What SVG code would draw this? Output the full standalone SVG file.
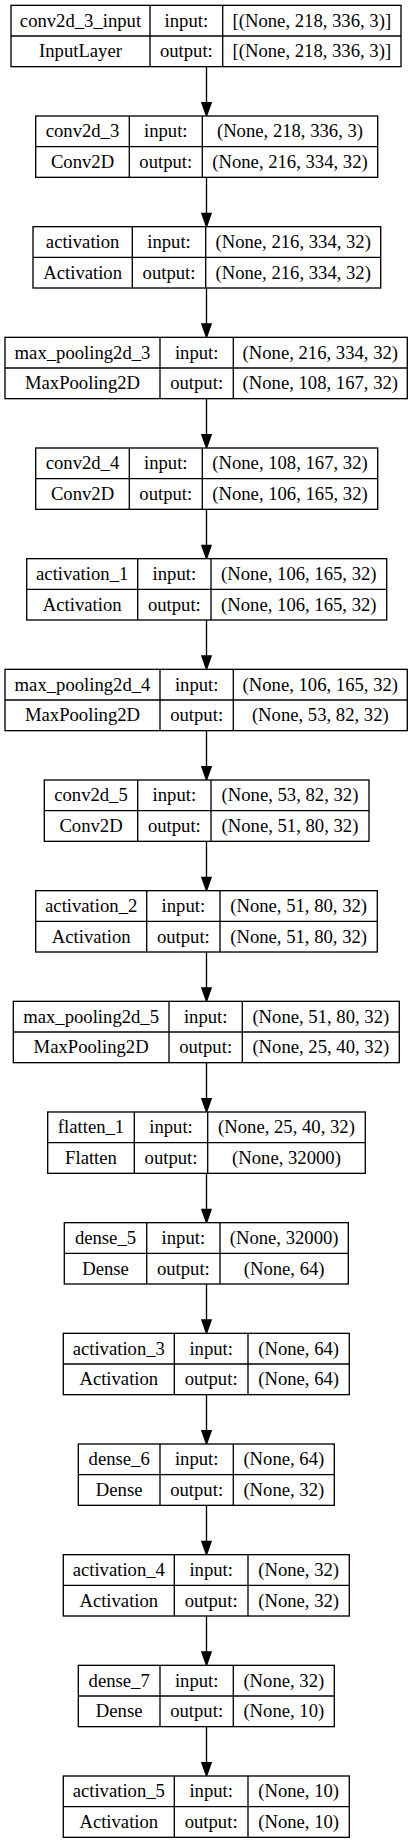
<svg xmlns="http://www.w3.org/2000/svg" width="413" height="1844" viewBox="0 0 413 1844">
<style>
.box{fill:#fff;stroke:#000;stroke-width:1.33}
.sep{stroke:#000;stroke-width:1.33}
text{font-family:"Liberation Serif","Times New Roman",serif;font-size:18.67px;fill:#000;text-anchor:middle}
.edge{stroke:#000;stroke-width:1.33;fill:none}
</style>
<defs>
<marker id="ah" markerUnits="userSpaceOnUse" markerWidth="14" markerHeight="10" refX="0" refY="4.67" orient="auto" overflow="visible">
<path d="M0,0 L13.33,4.67 L0,9.33 z" fill="#000" stroke="#000" stroke-width="1.33"/>
</marker>
</defs>
<rect x="0" y="0" width="413" height="1844" fill="#fff"/>

<g id="edges">
<line class="edge" x1="206.5" y1="66.67" x2="206.5" y2="102.67" marker-end="url(#ah)"/>
<line class="edge" x1="206.5" y1="177.33" x2="206.5" y2="213.33" marker-end="url(#ah)"/>
<line class="edge" x1="206.5" y1="288" x2="206.5" y2="324" marker-end="url(#ah)"/>
<line class="edge" x1="206.5" y1="398.67" x2="206.5" y2="434.67" marker-end="url(#ah)"/>
<line class="edge" x1="206.5" y1="509.33" x2="206.5" y2="545.33" marker-end="url(#ah)"/>
<line class="edge" x1="206.5" y1="620" x2="206.5" y2="656" marker-end="url(#ah)"/>
<line class="edge" x1="206.5" y1="730.67" x2="206.5" y2="766.67" marker-end="url(#ah)"/>
<line class="edge" x1="206.5" y1="841.33" x2="206.5" y2="877.33" marker-end="url(#ah)"/>
<line class="edge" x1="206.5" y1="952" x2="206.5" y2="988" marker-end="url(#ah)"/>
<line class="edge" x1="206.5" y1="1062.67" x2="206.5" y2="1098.67" marker-end="url(#ah)"/>
<line class="edge" x1="206.5" y1="1173.33" x2="206.5" y2="1209.33" marker-end="url(#ah)"/>
<line class="edge" x1="206.5" y1="1284" x2="206.5" y2="1320" marker-end="url(#ah)"/>
<line class="edge" x1="206.5" y1="1394.67" x2="206.5" y2="1430.67" marker-end="url(#ah)"/>
<line class="edge" x1="206.5" y1="1505.33" x2="206.5" y2="1541.33" marker-end="url(#ah)"/>
<line class="edge" x1="206.5" y1="1616" x2="206.5" y2="1652" marker-end="url(#ah)"/>
<line class="edge" x1="206.5" y1="1726.67" x2="206.5" y2="1762.67" marker-end="url(#ah)"/>
</g>

<g id="n1" transform="translate(0,5.33)">
<rect class="box" x="11" y="0" width="390" height="61.33"/>
<line class="sep" x1="11" y1="30.67" x2="401" y2="30.67"/>
<line class="sep" x1="150" y1="0" x2="150" y2="61.33"/>
<line class="sep" x1="222.7" y1="0" x2="222.7" y2="61.33"/>
<text x="80.5" y="21.33">conv2d_3_input</text><text x="186.35" y="21.33">input:</text><text x="311.85" y="21.33">[(None, 218, 336, 3)]</text>
<text x="80.5" y="52">InputLayer</text><text x="186.35" y="52">output:</text><text x="311.85" y="52">[(None, 218, 336, 3)]</text>
</g>

<g id="n2" transform="translate(0,116)">
<rect class="box" x="35.7" y="0" width="342" height="61.33"/>
<line class="sep" x1="35.7" y1="30.67" x2="377.7" y2="30.67"/>
<line class="sep" x1="129.3" y1="0" x2="129.3" y2="61.33"/>
<line class="sep" x1="202.3" y1="0" x2="202.3" y2="61.33"/>
<text x="82.5" y="21.33">conv2d_3</text><text x="165.8" y="21.33">input:</text><text x="290" y="21.33">(None, 218, 336, 3)</text>
<text x="82.5" y="52">Conv2D</text><text x="165.8" y="52">output:</text><text x="290" y="52">(None, 216, 334, 32)</text>
</g>

<g id="n3" transform="translate(0,226.67)">
<rect class="box" x="33" y="0" width="347.7" height="61.33"/>
<line class="sep" x1="33" y1="30.67" x2="380.7" y2="30.67"/>
<line class="sep" x1="132.3" y1="0" x2="132.3" y2="61.33"/>
<line class="sep" x1="205.7" y1="0" x2="205.7" y2="61.33"/>
<text x="82.65" y="21.33">activation</text><text x="169" y="21.33">input:</text><text x="293.2" y="21.33">(None, 216, 334, 32)</text>
<text x="82.65" y="52">Activation</text><text x="169" y="52">output:</text><text x="293.2" y="52">(None, 216, 334, 32)</text>
</g>

<g id="n4" transform="translate(0,337.33)">
<rect class="box" x="5" y="0" width="402.3" height="61.33"/>
<line class="sep" x1="5" y1="30.67" x2="407.3" y2="30.67"/>
<line class="sep" x1="160" y1="0" x2="160" y2="61.33"/>
<line class="sep" x1="233.3" y1="0" x2="233.3" y2="61.33"/>
<text x="82.5" y="21.33">max_pooling2d_3</text><text x="196.65" y="21.33">input:</text><text x="320.3" y="21.33">(None, 216, 334, 32)</text>
<text x="82.5" y="52">MaxPooling2D</text><text x="196.65" y="52">output:</text><text x="320.3" y="52">(None, 108, 167, 32)</text>
</g>

<g id="n5" transform="translate(0,448)">
<rect class="box" x="35.7" y="0" width="342" height="61.33"/>
<line class="sep" x1="35.7" y1="30.67" x2="377.7" y2="30.67"/>
<line class="sep" x1="129.3" y1="0" x2="129.3" y2="61.33"/>
<line class="sep" x1="202.3" y1="0" x2="202.3" y2="61.33"/>
<text x="82.5" y="21.33">conv2d_4</text><text x="165.8" y="21.33">input:</text><text x="290" y="21.33">(None, 108, 167, 32)</text>
<text x="82.5" y="52">Conv2D</text><text x="165.8" y="52">output:</text><text x="290" y="52">(None, 106, 165, 32)</text>
</g>

<g id="n6" transform="translate(0,558.67)">
<rect class="box" x="26.7" y="0" width="360" height="61.33"/>
<line class="sep" x1="26.7" y1="30.67" x2="386.7" y2="30.67"/>
<line class="sep" x1="137.7" y1="0" x2="137.7" y2="61.33"/>
<line class="sep" x1="211" y1="0" x2="211" y2="61.33"/>
<text x="82.2" y="21.33">activation_1</text><text x="174.35" y="21.33">input:</text><text x="298.85" y="21.33">(None, 106, 165, 32)</text>
<text x="82.2" y="52">Activation</text><text x="174.35" y="52">output:</text><text x="298.85" y="52">(None, 106, 165, 32)</text>
</g>

<g id="n7" transform="translate(0,669.33)">
<rect class="box" x="5" y="0" width="402.3" height="61.33"/>
<line class="sep" x1="5" y1="30.67" x2="407.3" y2="30.67"/>
<line class="sep" x1="160" y1="0" x2="160" y2="61.33"/>
<line class="sep" x1="233.3" y1="0" x2="233.3" y2="61.33"/>
<text x="82.5" y="21.33">max_pooling2d_4</text><text x="196.65" y="21.33">input:</text><text x="320.3" y="21.33">(None, 106, 165, 32)</text>
<text x="82.5" y="52">MaxPooling2D</text><text x="196.65" y="52">output:</text><text x="320.3" y="52">(None, 53, 82, 32)</text>
</g>

<g id="n8" transform="translate(0,780)">
<rect class="box" x="44.3" y="0" width="324.7" height="61.33"/>
<line class="sep" x1="44.3" y1="30.67" x2="369" y2="30.67"/>
<line class="sep" x1="137.7" y1="0" x2="137.7" y2="61.33"/>
<line class="sep" x1="211" y1="0" x2="211" y2="61.33"/>
<text x="91" y="21.33">conv2d_5</text><text x="174.35" y="21.33">input:</text><text x="290" y="21.33">(None, 53, 82, 32)</text>
<text x="91" y="52">Conv2D</text><text x="174.35" y="52">output:</text><text x="290" y="52">(None, 51, 80, 32)</text>
</g>

<g id="n9" transform="translate(0,890.67)">
<rect class="box" x="35.7" y="0" width="341.6" height="61.33"/>
<line class="sep" x1="35.7" y1="30.67" x2="377.3" y2="30.67"/>
<line class="sep" x1="146.7" y1="0" x2="146.7" y2="61.33"/>
<line class="sep" x1="220" y1="0" x2="220" y2="61.33"/>
<text x="91.2" y="21.33">activation_2</text><text x="183.35" y="21.33">input:</text><text x="298.65" y="21.33">(None, 51, 80, 32)</text>
<text x="91.2" y="52">Activation</text><text x="183.35" y="52">output:</text><text x="298.65" y="52">(None, 51, 80, 32)</text>
</g>

<g id="n10" transform="translate(0,1001.33)">
<rect class="box" x="13.3" y="0" width="386" height="61.33"/>
<line class="sep" x1="13.3" y1="30.67" x2="399.3" y2="30.67"/>
<line class="sep" x1="169" y1="0" x2="169" y2="61.33"/>
<line class="sep" x1="242.3" y1="0" x2="242.3" y2="61.33"/>
<text x="91.15" y="21.33">max_pooling2d_5</text><text x="205.65" y="21.33">input:</text><text x="320.8" y="21.33">(None, 51, 80, 32)</text>
<text x="91.15" y="52">MaxPooling2D</text><text x="205.65" y="52">output:</text><text x="320.8" y="52">(None, 25, 40, 32)</text>
</g>

<g id="n11" transform="translate(0,1112)">
<rect class="box" x="47.7" y="0" width="317.6" height="61.33"/>
<line class="sep" x1="47.7" y1="30.67" x2="365.3" y2="30.67"/>
<line class="sep" x1="134.3" y1="0" x2="134.3" y2="61.33"/>
<line class="sep" x1="207.7" y1="0" x2="207.7" y2="61.33"/>
<text x="91" y="21.33">flatten_1</text><text x="171" y="21.33">input:</text><text x="286.5" y="21.33">(None, 25, 40, 32)</text>
<text x="91" y="52">Flatten</text><text x="171" y="52">output:</text><text x="286.5" y="52">(None, 32000)</text>
</g>

<g id="n12" transform="translate(0,1222.67)">
<rect class="box" x="64.3" y="0" width="284" height="61.33"/>
<line class="sep" x1="64.3" y1="30.67" x2="348.3" y2="30.67"/>
<line class="sep" x1="146.7" y1="0" x2="146.7" y2="61.33"/>
<line class="sep" x1="220" y1="0" x2="220" y2="61.33"/>
<text x="105.5" y="21.33">dense_5</text><text x="183.35" y="21.33">input:</text><text x="284.15" y="21.33">(None, 32000)</text>
<text x="105.5" y="52">Dense</text><text x="183.35" y="52">output:</text><text x="284.15" y="52">(None, 64)</text>
</g>

<g id="n13" transform="translate(0,1333.33)">
<rect class="box" x="63.3" y="0" width="286" height="61.33"/>
<line class="sep" x1="63.3" y1="30.67" x2="349.3" y2="30.67"/>
<line class="sep" x1="174.3" y1="0" x2="174.3" y2="61.33"/>
<line class="sep" x1="248" y1="0" x2="248" y2="61.33"/>
<text x="118.8" y="21.33">activation_3</text><text x="211.15" y="21.33">input:</text><text x="298.65" y="21.33">(None, 64)</text>
<text x="118.8" y="52">Activation</text><text x="211.15" y="52">output:</text><text x="298.65" y="52">(None, 64)</text>
</g>

<g id="n14" transform="translate(0,1444)">
<rect class="box" x="78.3" y="0" width="256" height="61.33"/>
<line class="sep" x1="78.3" y1="30.67" x2="334.3" y2="30.67"/>
<line class="sep" x1="160" y1="0" x2="160" y2="61.33"/>
<line class="sep" x1="233.3" y1="0" x2="233.3" y2="61.33"/>
<text x="119.15" y="21.33">dense_6</text><text x="196.65" y="21.33">input:</text><text x="283.8" y="21.33">(None, 64)</text>
<text x="119.15" y="52">Dense</text><text x="196.65" y="52">output:</text><text x="283.8" y="52">(None, 32)</text>
</g>

<g id="n15" transform="translate(0,1554.67)">
<rect class="box" x="63.3" y="0" width="286" height="61.33"/>
<line class="sep" x1="63.3" y1="30.67" x2="349.3" y2="30.67"/>
<line class="sep" x1="174.3" y1="0" x2="174.3" y2="61.33"/>
<line class="sep" x1="248" y1="0" x2="248" y2="61.33"/>
<text x="118.8" y="21.33">activation_4</text><text x="211.15" y="21.33">input:</text><text x="298.65" y="21.33">(None, 32)</text>
<text x="118.8" y="52">Activation</text><text x="211.15" y="52">output:</text><text x="298.65" y="52">(None, 32)</text>
</g>

<g id="n16" transform="translate(0,1665.33)">
<rect class="box" x="78.3" y="0" width="256" height="61.33"/>
<line class="sep" x1="78.3" y1="30.67" x2="334.3" y2="30.67"/>
<line class="sep" x1="160" y1="0" x2="160" y2="61.33"/>
<line class="sep" x1="233.3" y1="0" x2="233.3" y2="61.33"/>
<text x="119.15" y="21.33">dense_7</text><text x="196.65" y="21.33">input:</text><text x="283.8" y="21.33">(None, 32)</text>
<text x="119.15" y="52">Dense</text><text x="196.65" y="52">output:</text><text x="283.8" y="52">(None, 10)</text>
</g>

<g id="n17" transform="translate(0,1776)">
<rect class="box" x="63.3" y="0" width="286" height="61.33"/>
<line class="sep" x1="63.3" y1="30.67" x2="349.3" y2="30.67"/>
<line class="sep" x1="174.3" y1="0" x2="174.3" y2="61.33"/>
<line class="sep" x1="248" y1="0" x2="248" y2="61.33"/>
<text x="118.8" y="21.33">activation_5</text><text x="211.15" y="21.33">input:</text><text x="298.65" y="21.33">(None, 10)</text>
<text x="118.8" y="52">Activation</text><text x="211.15" y="52">output:</text><text x="298.65" y="52">(None, 10)</text>
</g>
</svg>
